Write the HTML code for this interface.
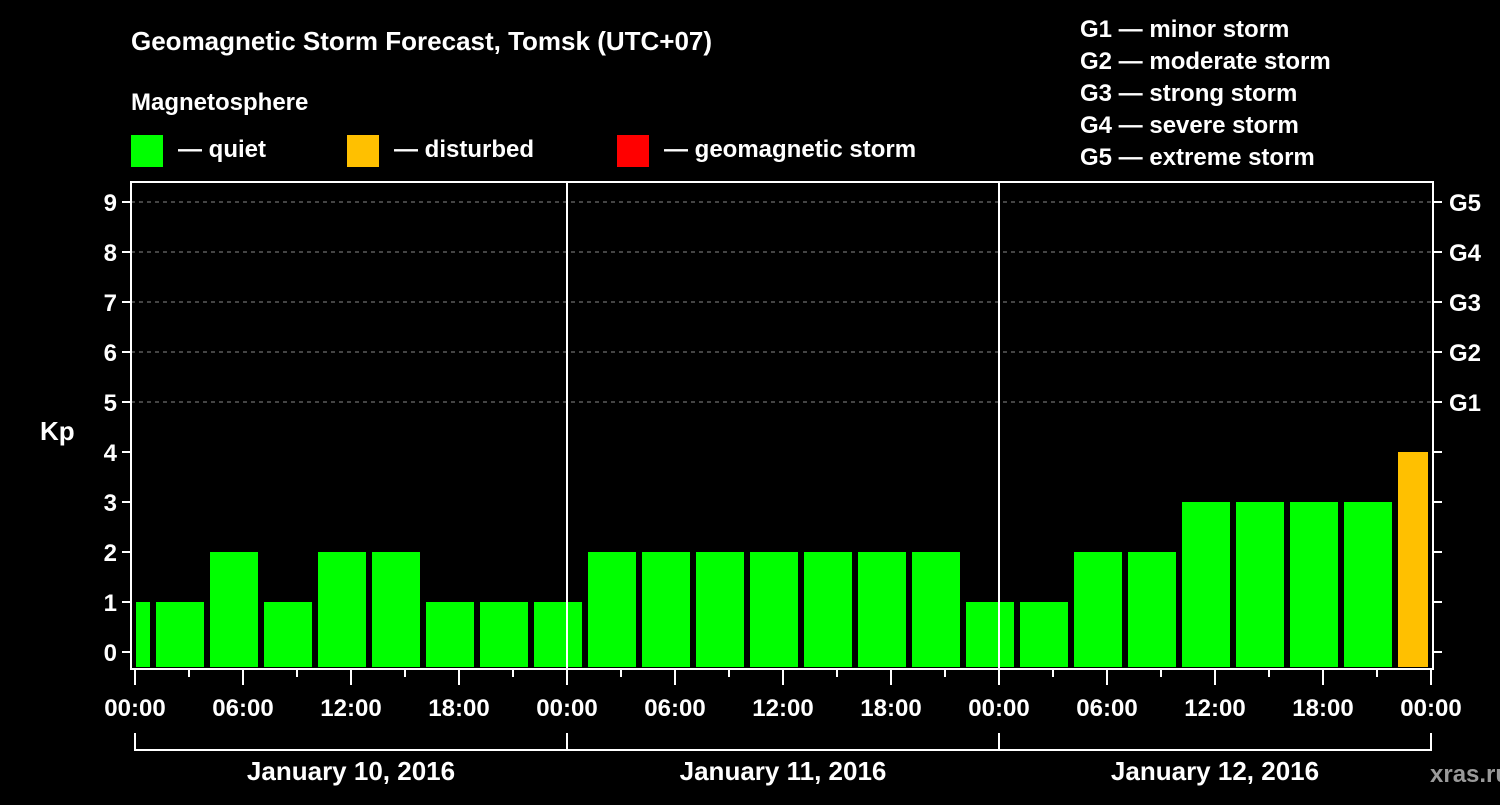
<!DOCTYPE html>
<html><head><meta charset="utf-8"><style>
body{margin:0;background:#000;}
svg text{font-family:"Liberation Sans",sans-serif;font-weight:bold;fill:#fff;}
</style></head><body>
<svg id="chart" width="1500" height="800" viewBox="0 0 1500 800">
<rect width="1500" height="800" fill="#000"/>
<text x="131" y="50" font-size="26">Geomagnetic Storm Forecast, Tomsk (UTC+07)</text>
<text x="131" y="110" font-size="24">Magnetosphere</text>
<g><rect x="131" y="135" width="32" height="32" fill="#00ff00"/><text x="178" y="157" font-size="24">— quiet</text></g>
<g><rect x="347" y="135" width="32" height="32" fill="#ffc000"/><text x="394" y="157" font-size="24">— disturbed</text></g>
<g><rect x="617" y="135" width="32" height="32" fill="#ff0000"/><text x="664" y="157" font-size="24">— geomagnetic storm</text></g>
<g font-size="24">
<text x="1080" y="37">G1 — minor storm</text><text x="1080" y="69">G2 — moderate storm</text><text x="1080" y="101">G3 — strong storm</text><text x="1080" y="133">G4 — severe storm</text><text x="1080" y="165">G5 — extreme storm</text></g>
<text x="40" y="440" font-size="26">Kp</text>
<text x="1430" y="782" font-size="24" fill="#999" style="fill:#9a9a9a">xras.ru</text>
<g id="grid"></g><g id="bars"></g><g id="axes"></g>
</svg>
<script>
const kpValues=[1,1,2,1,2,2,1,1,1,2,2,2,2,2,2,2,1,1,2,2,3,3,3,3,4];
const dayLabels=["January 10, 2016","January 11, 2016","January 12, 2016"];
const yTicks=[0,1,2,3,4,5,6,7,8,9];
const gLabels=["G1","G2","G3","G4","G5"];
const hourLabels=["00:00","06:00","12:00","18:00"];
const NS="http://www.w3.org/2000/svg";
const X0=135,PXH=18,L=131,R=1433,T=182,B=669;
const xs=h=>X0+h*PXH;
const ys=v=>652-v*50;
function mk(t,a,p){const e=document.createElementNS(NS,t);for(const k in a)e.setAttribute(k,a[k]);p.appendChild(e);return e;}
const grid=document.getElementById('grid'),bars=document.getElementById('bars'),axes=document.getElementById('axes');
for(let v=5;v<=9;v++){const l=mk('line',{x1:L,x2:R,y1:ys(v),y2:ys(v),stroke:'#888','stroke-dasharray':'4,4'},grid);

}
kpValues.forEach((v,i)=>{
 const s=-2+3*i;let x1=xs(s)+3,x2=xs(s+3)-3;x1=Math.max(x1,L+5);x2=Math.min(x2,R-5);
 const col=v>=5?'#ff0000':(v>=4?'#ffc000':'#00ff00');
 const r=mk('rect',{x:x1,y:ys(v),width:x2-x1,height:667-ys(v),fill:col},bars);
 
 
});
const fr=mk('rect',{x:L,y:T,width:R-L,height:B-T,fill:'none',stroke:'#fff','stroke-width':2},axes);


[1,2].forEach(d=>{const l=mk('line',{x1:xs(24*d),x2:xs(24*d),y1:T,y2:B,stroke:'#fff','stroke-width':2},axes);

});
yTicks.forEach(v=>{
 mk('line',{x1:L-9,x2:L,y1:ys(v),y2:ys(v),stroke:'#fff','stroke-width':2},axes);
 mk('line',{x1:R,x2:R+9,y1:ys(v),y2:ys(v),stroke:'#fff','stroke-width':2},axes);
 const t=mk('text',{x:L-14,y:ys(v)+9,'font-size':24,'text-anchor':'end'},axes);t.textContent=v;
 
 
});
gLabels.forEach((g,i)=>{const t=mk('text',{x:1449,y:ys(5+i)+9,'font-size':24},axes);t.textContent=g;

});
for(let h=0;h<=72;h+=3){const maj=h%6===0;
 mk('line',{x1:xs(h),x2:xs(h),y1:B,y2:B+(maj?16:8),stroke:'#fff','stroke-width':2},axes);
 if(maj){const t=mk('text',{x:xs(h),y:716,'font-size':24,'text-anchor':'middle'},axes);t.textContent=hourLabels[(h/6)%4];
 
 }}
dayLabels.forEach((d,i)=>{
 const a=xs(24*i),b=xs(24*i+24);
 mk('path',{d:`M${a} 733V750H${b}V733`,fill:'none',stroke:'#fff','stroke-width':2},axes);
 const t=mk('text',{x:(a+b)/2,y:780,'font-size':26,'text-anchor':'middle'},axes);t.textContent=d;
 
 
});
</script>
</body></html>
